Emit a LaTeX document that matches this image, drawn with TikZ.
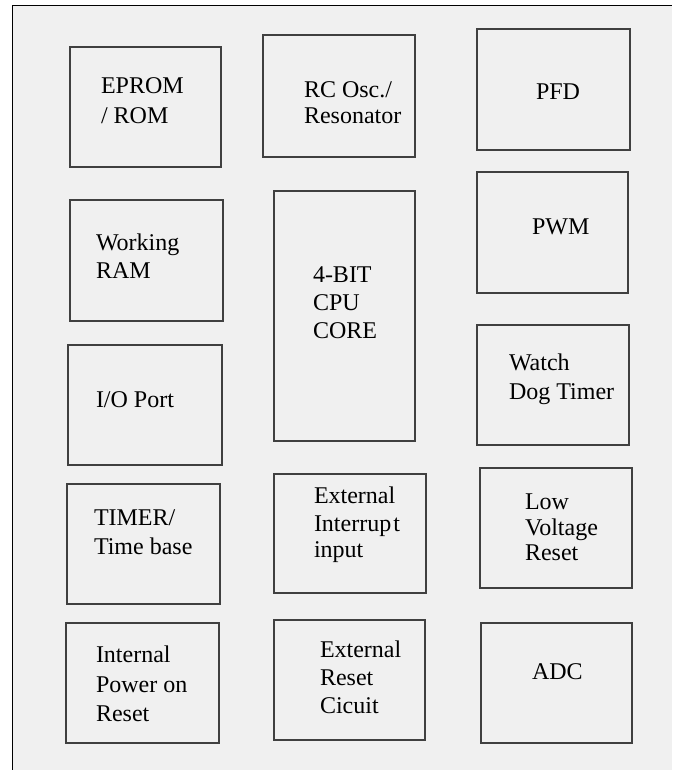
\documentclass[tikz,border=0pt]{standalone}
\usepackage{fontspec}
\setmainfont{Liberation Serif}
\definecolor{bggray}{HTML}{F0F0F0}
\definecolor{boxline}{HTML}{404040}
\begin{document}
\begin{tikzpicture}[x=1pt,y=-1pt,
  blk/.style={draw=boxline, line width=1.1pt, inner sep=0pt, outer sep=0pt, anchor=north west},
  lbl/.style={inner sep=0pt, outer sep=0pt, anchor=base west, font=\fontsize{24}{28}\selectfont, text=black}]
\useasboundingbox (0,0) rectangle (672,770);
\fill[white] (0,0) rectangle (672,770);
\fill[bggray] (12,6) rectangle (672,770);
\draw[line width=1pt, black] (12,770) -- (12,6) -- (672,6);
% boxes
\node[blk, minimum width=151, minimum height=120] (eprom) at (70,47) {};
\node[blk, minimum width=152, minimum height=122] (rcosc) at (263,35) {};
\node[blk, minimum width=153, minimum height=121] (pfd) at (477,29) {};
\node[blk, minimum width=153, minimum height=121] (ram) at (70,200) {};
\node[blk, minimum width=141, minimum height=250] (cpu) at (274,191) {};
\node[blk, minimum width=151, minimum height=121] (pwm) at (477,172) {};
\node[blk, minimum width=154, minimum height=120] (io) at (68,345) {};
\node[blk, minimum width=152, minimum height=120] (wdt) at (477,325) {};
\node[blk, minimum width=153, minimum height=120] (timer) at (67,484) {};
\node[blk, minimum width=152, minimum height=119] (extint) at (274,474) {};
\node[blk, minimum width=152, minimum height=120] (lvr) at (480,468) {};
\node[blk, minimum width=153, minimum height=120] (ipor) at (66,623) {};
\node[blk, minimum width=151, minimum height=120] (extrst) at (274,620) {};
\node[blk, minimum width=151, minimum height=120] (adc) at (481,623) {};
% labels
\node[lbl] (t1a) at (101,94) {EPROM};
\node[lbl] (t1b) at (101,124) {/ ROM};
\node[lbl] (t2a) at (304,98) {RC Osc./};
\node[lbl] (t2b) at (304,124) {Resonator};
\node[lbl] (t3a) at (536,100) {PFD};
\node[lbl] (t4a) at (96,250) {Working};
\node[lbl] (t4b) at (96,278) {RAM};
\node[lbl] (t5a) at (313,282) {4-BIT};
\node[lbl] (t5b) at (313,310) {CPU};
\node[lbl] (t5c) at (313,338) {CORE};
\node[lbl] (t6a) at (532,234) {PWM};
\node[lbl] (t7a) at (96,407) {I/O Port};
\node[lbl] (t8a) at (509,370) {Watch};
\node[lbl] (t8b) at (509,399) {Dog Timer};
\node[lbl] (t9a) at (94,525) {TIMER/};
\node[lbl] (t9b) at (94,554) {Time base};
\node[lbl] (t10a) at (314,503) {External};
\node[lbl] (t10b) at (314,531) {Interrup\hspace{2pt}t};
\node[lbl] (t10c) at (314,557) {input};
\node[lbl] (t11a) at (525,509) {Low};
\node[lbl] (t11b) at (525,535) {Voltage};
\node[lbl] (t11c) at (525,560) {Reset};
\node[lbl] (t12a) at (96,662) {Internal};
\node[lbl] (t12b) at (96,692) {Power on};
\node[lbl] (t12c) at (96,721) {Reset};
\node[lbl] (t13a) at (320,657) {External};
\node[lbl] (t13b) at (320,685) {Reset};
\node[lbl] (t13c) at (320,713) {Cicuit};
\node[lbl] (t14a) at (532,679) {ADC};
\end{tikzpicture}
\end{document}
